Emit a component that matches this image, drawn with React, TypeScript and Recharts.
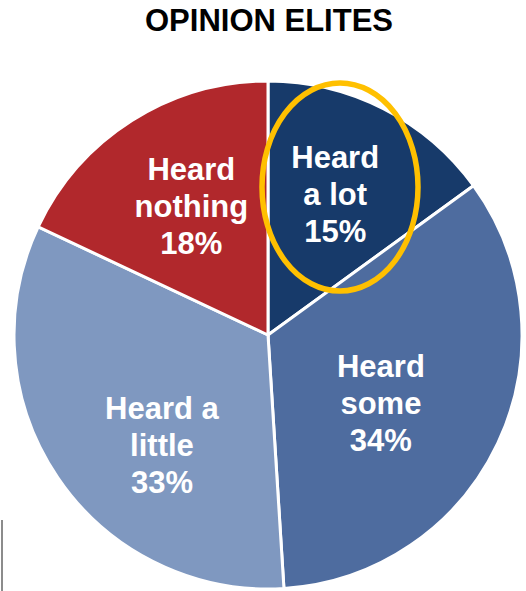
import { PieChart, Pie, Cell } from "recharts";

const categories = ["Heard a lot", "Heard some", "Heard a little", "Heard nothing"];
const shares = [15, 34, 33, 18];
const labelLines = [
  ["Heard", "a lot", "15%"],
  ["Heard", "some", "34%"],
  ["Heard a", "little", "33%"],
  ["Heard", "nothing", "18%"],
];

const colors = ["#173a6a", "#4e6c9f", "#7f98c0", "#b1282c"];
// small hand tweaks so labels sit where the original puts them
const nudges = [
  [-2, -5],
  [-25, 4],
  [20, 25],
  [5, 0],
];

const data = categories.map((name, i) => ({ name, value: shares[i] }));

const RADIAN = Math.PI / 180;

const renderLabel = (props: any) => {
  const { cx, cy, midAngle, outerRadius, index } = props;
  const r = outerRadius * 0.6;
  const x = cx + r * Math.cos(-midAngle * RADIAN) + nudges[index][0];
  const y = cy + r * Math.sin(-midAngle * RADIAN) + nudges[index][1];
  const lines = labelLines[index];
  return (
    <g>
      {lines.map((t, i) => (
        <text
          key={i}
          x={x}
          y={y + (i - 1) * 37}
          fill="#fff"
          textAnchor="middle"
          dominantBaseline="central"
          fontFamily="'Liberation Sans', Arial, sans-serif"
          fontWeight="bold"
          fontSize={31}
        >
          {t}
        </text>
      ))}
    </g>
  );
};

export default function App() {
  return (
    <div
      style={{
        position: "absolute",
        left: 0,
        top: 0,
        width: 526,
        height: 591,
        background: "#fff",
        overflow: "hidden",
      }}
    >
      <div
        style={{
          position: "absolute",
          left: 0,
          top: 2,
          width: 538,
          textAlign: "center",
          fontFamily: "'Liberation Sans', Arial, sans-serif",
          fontWeight: "bold",
          fontSize: 31,
          lineHeight: "38px",
          color: "#000",
        }}
      >
        OPINION ELITES
      </div>
      <PieChart
        width={526}
        height={591}
        margin={{ top: 0, right: 0, bottom: 0, left: 0 }}
        style={{ position: "absolute", left: 0, top: 0 }}
      >
        <Pie
          data={data}
          dataKey="value"
          nameKey="name"
          cx={268}
          cy={335}
          outerRadius={254}
          startAngle={90}
          endAngle={-270}
          stroke="#fff"
          strokeWidth={3}
          label={renderLabel}
          labelLine={false}
          isAnimationActive={false}
        >
          {data.map((d, i) => (
            <Cell key={d.name} fill={colors[i]} />
          ))}
        </Pie>
      </PieChart>
      <svg
        width={526}
        height={591}
        style={{ position: "absolute", left: 0, top: 0, pointerEvents: "none" }}
      >
        <ellipse cx={340} cy={187} rx={78} ry={104} fill="none" stroke="#ffc000" strokeWidth={5.5} />
      </svg>
      <div
        style={{
          position: "absolute",
          left: 1,
          top: 520,
          width: 2,
          height: 71,
          background: "#8c8c8c",
        }}
      />
    </div>
  );
}
